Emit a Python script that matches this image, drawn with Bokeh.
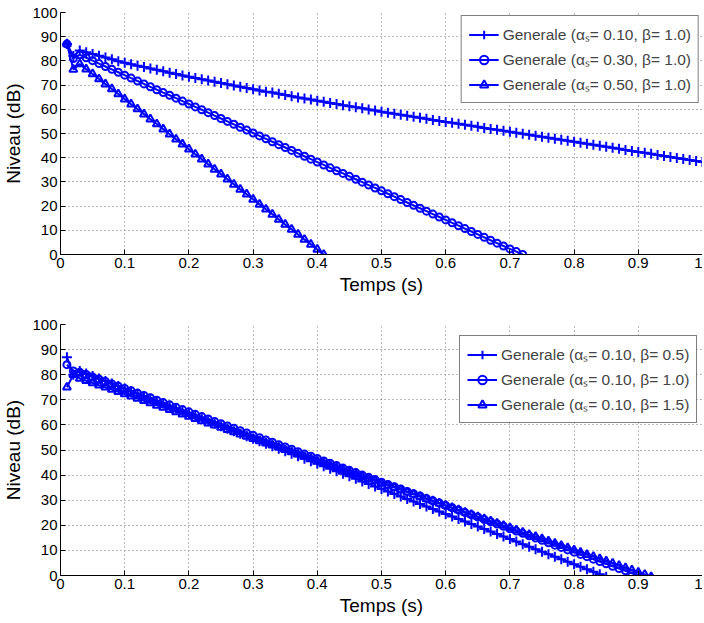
from bokeh.plotting import figure
from bokeh.layouts import column
from bokeh.models import FixedTicker, Legend, LegendItem, Range1d
from bokeh.embed import file_html
from bokeh.resources import INLINE

# time grid (s)
T = [0.01, 0.02, 0.03, 0.04, 0.05, 0.06, 0.07, 0.08, 0.09, 0.10,
     0.11, 0.12, 0.13, 0.14, 0.15, 0.16, 0.17, 0.18, 0.19, 0.20,
     0.21, 0.22, 0.23, 0.24, 0.25, 0.26, 0.27, 0.28, 0.29, 0.30,
     0.31, 0.32, 0.33, 0.34, 0.35, 0.36, 0.37, 0.38, 0.39, 0.40,
     0.41, 0.42, 0.43, 0.44, 0.45, 0.46, 0.47, 0.48, 0.49, 0.50,
     0.51, 0.52, 0.53, 0.54, 0.55, 0.56, 0.57, 0.58, 0.59, 0.60,
     0.61, 0.62, 0.63, 0.64, 0.65, 0.66, 0.67, 0.68, 0.69, 0.70,
     0.71, 0.72, 0.73, 0.74, 0.75, 0.76, 0.77, 0.78, 0.79, 0.80,
     0.81, 0.82, 0.83, 0.84, 0.85, 0.86, 0.87, 0.88, 0.89, 0.90,
     0.91, 0.92, 0.93, 0.94, 0.95, 0.96, 0.97, 0.98, 0.99, 1.00]

# top panel: beta = 1.0, alpha_s varies
top_a010 = [87.0, 82.0, 84.3, 83.6, 82.8, 82.1, 81.4, 80.7, 79.9, 79.2,
            78.6, 78.0, 77.5, 76.9, 76.3, 75.7, 75.1, 74.6, 74.0, 73.4,
            72.9, 72.4, 71.9, 71.4, 70.9, 70.3, 69.8, 69.3, 68.8, 68.3,
            67.8, 67.3, 66.9, 66.4, 65.9, 65.4, 64.9, 64.5, 64.0, 63.5,
            63.1, 62.6, 62.2, 61.7, 61.3, 60.8, 60.4, 59.9, 59.5, 59.0,
            58.6, 58.2, 57.7, 57.3, 56.9, 56.5, 56.1, 55.6, 55.2, 54.8,
            54.4, 54.0, 53.6, 53.2, 52.8, 52.3, 51.9, 51.5, 51.1, 50.7,
            50.3, 49.9, 49.5, 49.1, 48.7, 48.2, 47.8, 47.4, 47.0, 46.6,
            46.2, 45.8, 45.3, 44.9, 44.5, 44.1, 43.7, 43.2, 42.8, 42.4,
            42.0, 41.6, 41.1, 40.7, 40.3, 39.9, 39.5, 39.0, 38.6, 38.2]
top_a030 = [87.0, 81.0, 82.5, 81.3, 80.1, 78.9, 77.7, 76.5, 75.3, 74.1,
            72.9, 71.7, 70.5, 69.3, 68.1, 66.9, 65.8, 64.6, 63.4, 62.2,
            61.0, 59.8, 58.6, 57.4, 56.2, 55.0, 53.8, 52.6, 51.4, 50.2,
            49.0, 47.8, 46.6, 45.4, 44.2, 43.0, 41.8, 40.6, 39.4, 38.2,
            37.0, 35.8, 34.6, 33.5, 32.3, 31.1, 29.9, 28.7, 27.5, 26.3,
            25.1, 23.9, 22.7, 21.5, 20.3, 19.1, 17.9, 16.7, 15.5, 14.3,
            13.1, 11.9, 10.7, 9.5, 8.3, 7.1, 5.9, 4.7, 3.5, 2.3,
            1.2, 0.0]
top_a050 = [87.0, 76.5, 78.7, 76.6, 74.6, 72.5, 70.4, 68.4, 66.3, 64.2,
            62.1, 60.1, 58.0, 55.9, 53.9, 51.8, 49.7, 47.6, 45.6, 43.5,
            41.4, 39.4, 37.3, 35.2, 33.2, 31.1, 29.0, 26.9, 24.9, 22.8,
            20.7, 18.7, 16.6, 14.5, 12.4, 10.4, 8.3, 6.2, 4.2, 2.1,
            0.0]

# bottom panel: alpha_s = 0.10, beta varies
bot_b05 = [87.0, 80.0, 81.5, 80.5, 79.5, 78.5, 77.5, 76.5, 75.5, 74.5,
           73.5, 72.5, 71.5, 70.5, 69.5, 68.5, 67.5, 66.5, 65.5, 64.5,
           63.5, 62.5, 61.5, 60.5, 59.5, 58.5, 57.5, 56.5, 55.5, 54.5,
           53.5, 52.5, 51.5, 50.5, 49.5, 48.5, 47.5, 46.5, 45.5, 44.5,
           43.5, 42.5, 41.5, 40.5, 39.5, 38.5, 37.5, 36.5, 35.5, 34.5,
           33.5, 32.5, 31.5, 30.5, 29.5, 28.5, 27.5, 26.5, 25.5, 24.5,
           23.5, 22.5, 21.5, 20.5, 19.5, 18.5, 17.5, 16.5, 15.5, 14.5,
           13.5, 12.5, 11.5, 10.5, 9.5, 8.5, 7.5, 6.5, 5.5, 4.5,
           3.5, 2.5, 1.5, 0.5, -0.5]
bot_b10 = [84.0, 81.5, 81.0, 80.1, 79.1, 78.2, 77.3, 76.3, 75.4, 74.5,
           73.6, 72.6, 71.7, 70.8, 69.8, 68.9, 68.0, 67.0, 66.1, 65.2,
           64.2, 63.3, 62.4, 61.4, 60.5, 59.6, 58.7, 57.7, 56.8, 55.9,
           54.9, 54.0, 53.1, 52.1, 51.2, 50.3, 49.3, 48.4, 47.5, 46.6,
           45.6, 44.7, 43.8, 42.8, 41.9, 41.0, 40.0, 39.1, 38.2, 37.2,
           36.3, 35.4, 34.5, 33.5, 32.6, 31.7, 30.7, 29.8, 28.9, 27.9,
           27.0, 26.1, 25.1, 24.2, 23.3, 22.3, 21.4, 20.5, 19.6, 18.6,
           17.7, 16.8, 15.8, 14.9, 14.0, 13.0, 12.1, 11.2, 10.2, 9.3,
           8.4, 7.5, 6.5, 5.6, 4.7, 3.7, 2.8, 1.9, 0.9, 0.0]
bot_b15 = [75.0, 80.0, 78.5, 77.6, 76.7, 75.8, 75.0, 74.1, 73.2, 72.3,
           71.4, 70.5, 69.6, 68.7, 67.8, 67.0, 66.1, 65.2, 64.3, 63.4,
           62.5, 61.6, 60.7, 59.9, 59.0, 58.1, 57.2, 56.3, 55.4, 54.5,
           53.6, 52.7, 51.9, 51.0, 50.1, 49.2, 48.3, 47.4, 46.5, 45.6,
           44.8, 43.9, 43.0, 42.1, 41.2, 40.3, 39.4, 38.5, 37.7, 36.8,
           35.9, 35.0, 34.1, 33.2, 32.3, 31.4, 30.5, 29.7, 28.8, 27.9,
           27.0, 26.1, 25.2, 24.3, 23.4, 22.6, 21.7, 20.8, 19.9, 19.0,
           18.1, 17.2, 16.3, 15.5, 14.6, 13.7, 12.8, 11.9, 11.0, 10.1,
           9.2, 8.3, 7.5, 6.6, 5.7, 4.8, 3.9, 3.0, 2.1, 1.2,
           0.4, -0.5]

X_TICKS = [0, 0.1, 0.2, 0.3, 0.4, 0.5, 0.6, 0.7, 0.8, 0.9, 1]
Y_TICKS = [0, 10, 20, 30, 40, 50, 60, 70, 80, 90, 100]

top_labels = ["Generale (\u03b1\u209b= 0.10, \u03b2= 1.0)",
              "Generale (\u03b1\u209b= 0.30, \u03b2= 1.0)",
              "Generale (\u03b1\u209b= 0.50, \u03b2= 1.0)"]
bot_labels = ["Generale (\u03b1\u209b= 0.10, \u03b2= 0.5)",
              "Generale (\u03b1\u209b= 0.10, \u03b2= 1.0)",
              "Generale (\u03b1\u209b= 0.10, \u03b2= 1.5)"]

FONT = "Liberation Sans"
BLUE = "#0000ff"
MARKERS = ["cross", "circle", "triangle"]
SIZES = [10, 7, 8]

W = 702
BL = 60


def make_fig(height, b_top, b_bottom, series, labels, leg_loc):
    p = figure(width=W, height=height, output_backend="svg", toolbar_location=None,
               x_range=Range1d(0, 1), y_range=Range1d(0, 100),
               min_border_left=BL, min_border_right=0,
               min_border_top=b_top, min_border_bottom=b_bottom)
    p.outline_line_color = None
    p.background_fill_color = "white"
    p.border_fill_color = "white"

    for ax in (p.xaxis[0], p.yaxis[0]):
        ax.axis_line_color = "black"
        ax.axis_line_width = 1
        ax.major_tick_in = 5
        ax.major_tick_out = 0
        ax.minor_tick_line_color = None
        ax.major_tick_line_color = "black"
        ax.major_label_text_font = FONT
        ax.major_label_text_font_size = "15px"
        ax.major_label_text_color = "black"
        ax.axis_label_text_font = FONT
        ax.axis_label_text_font_size = "19px"
        ax.axis_label_text_font_style = "normal"
        ax.axis_label_text_color = "black"
        ax.major_label_standoff = 3

    p.xaxis.ticker = FixedTicker(ticks=X_TICKS)
    p.yaxis.ticker = FixedTicker(ticks=Y_TICKS)
    p.xaxis.major_label_overrides = {0: "0", 1: "1"}
    p.xaxis.axis_label = "Temps (s)"
    p.yaxis.axis_label = "Niveau (dB)"
    p.xaxis.axis_label_standoff = 3
    p.yaxis.axis_label_standoff = 5

    for g in (p.xgrid[0], p.ygrid[0]):
        g.grid_line_color = "#777777"
        g.grid_line_dash = "1 3"
        g.grid_line_width = 1

    items = []
    for (ys, lab, mk, sz) in zip(series, labels, MARKERS, SIZES):
        xs = T[:len(ys)]
        ln = p.line(xs, ys, line_color=BLUE, line_width=2)
        sc = p.scatter(xs, ys, marker=mk, size=sz, line_color=BLUE,
                       fill_color=None, line_width=2)
        items.append(LegendItem(label=lab, renderers=[ln, sc]))

    leg = Legend(items=items, location=leg_loc, margin=3,
                 border_line_color="black", border_line_width=1,
                 background_fill_color="white", background_fill_alpha=1,
                 padding=7, spacing=3, label_text_font=FONT,
                 label_text_font_size="15.5px", glyph_width=30, glyph_height=21,
                 label_height=21, label_standoff=4)
    p.add_layout(leg, "center")
    return p


H1_TOP, H1_FRAME, H1_BOT = 12, 242, 44
H2_TOP, H2_FRAME, H2_BOT = 26, 251, 43
LEG_W = 240
p1 = make_fig(H1_TOP + H1_FRAME + H1_BOT, H1_TOP, H1_BOT,
              [top_a010, top_a030, top_a050], top_labels, "top_right")
p2 = make_fig(H2_TOP + H2_FRAME + H2_BOT, H2_TOP, H2_BOT,
              [bot_b05, bot_b10, bot_b15], bot_labels,
              (W - BL - LEG_W - 3, 152))

layout = column(p1, p2, spacing=0)
open("out.html", "w").write(file_html(layout, INLINE))
